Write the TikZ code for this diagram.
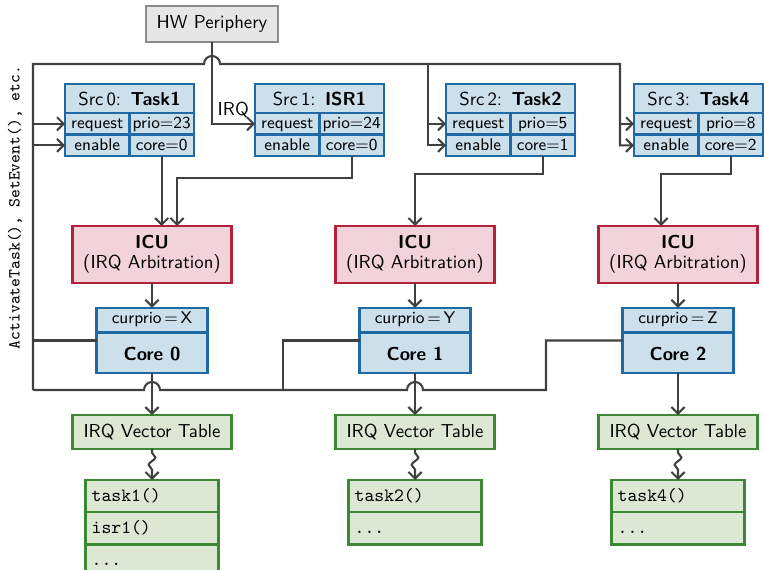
\documentclass[tikz,border=0pt]{standalone}
\usepackage{xcolor}
\usepackage{tikz}
\usetikzlibrary{positioning, calc, arrows.meta, shapes.multipart, decorations.pathmorphing}

\definecolor{srcfill}{HTML}{CCE0EC}
\definecolor{srcline}{HTML}{1F6AA5}
\definecolor{icufill}{HTML}{F2D3D9}
\definecolor{iculine}{HTML}{B5203A}
\definecolor{vtfill}{HTML}{DCE8D4}
\definecolor{vtline}{HTML}{3B8A33}
\definecolor{hwfill}{HTML}{E6E6E6}
\definecolor{hwline}{HTML}{8A8A8A}
\definecolor{wirecol}{HTML}{404040}

\newcommand{\strutA}{\rule[-4.3pt]{0pt}{12pt}}
\newcommand{\strutB}{\rule[-6.4pt]{0pt}{20.5pt}}
\newcommand{\strutC}{\rule[-5.3pt]{0pt}{16pt}}

\tikzset{
  box/.style={draw, line width=1.2pt, inner sep=0pt, outer sep=0pt, font=\sffamily},
  hwbox/.style={box, draw=hwline, fill=hwfill, minimum width=70.4pt, minimum height=19.2pt},
  srchead/.style={box, draw=srcline, fill=srcfill, minimum width=68.8pt, minimum height=15.5pt, anchor=north west},
  srccell/.style={box, draw=srcline, fill=srcfill, minimum width=34.4pt, minimum height=11.5pt,
    font=\sffamily\small, text height=1.5ex, text depth=.25ex, anchor=north west},
  icubox/.style={box, draw=iculine, fill=icufill, minimum width=84.8pt, minimum height=30.4pt, align=center},
  cpubox/.style={box, draw=srcline, fill=srcfill, rectangle split, rectangle split parts=2,
    minimum width=59.2pt, inner xsep=3pt},
  vtbox/.style={box, draw=vtline, fill=vtfill, minimum width=84.8pt, minimum height=18.1pt},
  tlist/.style={box, draw=vtline, fill=vtfill, rectangle split, rectangle split part align=left,
    minimum width=70.9pt, inner xsep=3.3pt, anchor=north},
  wire/.style={draw=wirecol, line width=1.1pt},
  wiggle/.style={decorate, decoration={snake, amplitude=1.8pt, segment length=8pt, pre length=2pt, post length=5pt}},
  >={Straight Barb[length=3.5pt,width=7pt]},
}

\begin{document}
\begin{tikzpicture}[x=0.1875cm, y=0.1875cm]

\useasboundingbox (0,0) rectangle (76.4,57);

\node[hwbox] (hw) at (21.2,54.6) {HW Periphery};

\node[rotate=90, font=\small\ttfamily] (calls) at (1.5,36.25) {ActivateTask(), SetEvent(), etc.};

% interrupt sources
\foreach \i/\x/\task/\prio/\cpu in {0/6.5/Task1/23/0, 1/25.5/ISR1/24/0, 2/44.6/Task2/5/1, 3/63.4/Task4/8/2}{
	\node[srchead] (src\i) at (\x,48.6) {Src\,\i:\enspace\textbf{\task}};
	\node[srccell] (req\i) at (src\i.south west) {request};
	\node[srccell] (prio\i) at (req\i.north east) {prio=\prio};
	\node[srccell] (en\i) at (req\i.south west) {enable};
	\node[srccell] (tgt\i) at (en\i.north east) {core=\cpu};
}

% one ICU, core and vector table per core
\foreach \j/\x/\cp in {0/15.2/X, 1/41.5/Y, 2/67.8/Z}{
	\node[icubox] (icu\j) at (\x,31.55) {\textbf{ICU}\\[-1.3pt](IRQ Arbitration)};
	\node[cpubox] (cpu\j) at (\x,22.95) {\strutA{\small curprio\,=\,\cp}\nodepart{two}\strutB\textbf{Core \j}};
	\node[vtbox] (vt\j) at (\x,13.8) {IRQ Vector Table};
}

\node[tlist, rectangle split parts=3] (list0) at (15.2,9) {\strutC\texttt{task1()}\nodepart{two}\strutC\texttt{isr1()}\nodepart{three}\strutC\texttt{...}};
\node[tlist, rectangle split parts=2] (list1) at (41.5,9) {\strutC\texttt{task2()}\nodepart{two}\strutC\texttt{...}};
\node[tlist, rectangle split parts=2] (list2) at (67.8,9) {\strutC\texttt{task4()}\nodepart{two}\strutC\texttt{...}};

\coordinate (busTL) at (3.3,50.6);
\coordinate (busBL) at (3.3,18);
\coordinate (busT2) at (42.8,50.6);
\coordinate (busT3) at (62,50.6);
\coordinate (busJ1) at (28.3,18);
\coordinate (busJ2) at (54.6,18);

% IRQ line
\draw[wire,->] (hw.south) |- (req1.west) node[pos=0.5, above right, inner sep=2.5pt, font=\sffamily] {IRQ};

% OS calls from the cores back to the sources
\draw[wire,->] (busBL) -- (busTL) -- ($(hw.south |- busTL)+(-0.8,0)$) arc (180:0:0.8) -- (busT3) |- (en3.west);
\draw[wire,->] (busT3 |- req3.west) -- (req3.west);
\draw[wire,->] (busT2) |- (en2.west);
\draw[wire,->] (busT2 |- req2.west) -- (req2.west);
\draw[wire,->] (busTL |- req0.west) -- (req0.west);
\draw[wire,->] (busTL |- en0.west) -- (en0.west);

\draw[wire] (busBL) -- ($(cpu0.south |- busBL)+(-0.8,0)$) arc (180:0:0.8)
	-- ($(cpu1.south |- busBL)+(-0.8,0)$) arc (180:0:0.8) -- (busJ2) |- (cpu2.west);
\draw[wire] (cpu0.west) -- (cpu0.west -| busBL);
\draw[wire] (cpu1.west) -| (busJ1);

% sources to ICUs
\draw[wire,->] (tgt0.south) -- (tgt0.south |- icu0.north);
\draw[wire,->] (tgt1.south) |- ($(icu0.north)+(2.5,4.8)$) -- ($(icu0.north)+(2.5,0)$);
\draw[wire,->] (tgt2.south) |- ($(icu1.north)+(0,5.2)$) -- (icu1.north);
\draw[wire,->] (tgt3.south) |- ($(icu2.north)+(-1.7,5.2)$) -- ($(icu2.north)+(-1.7,0)$);

\foreach \j in {0,1,2}{
	\draw[wire,->] (icu\j.south) -- (cpu\j.north);
	\draw[wire,->] (cpu\j.south) -- (vt\j.north);
	\draw[wire,->,wiggle] (vt\j.south) -- (list\j.north);
}

\end{tikzpicture}
\end{document}
